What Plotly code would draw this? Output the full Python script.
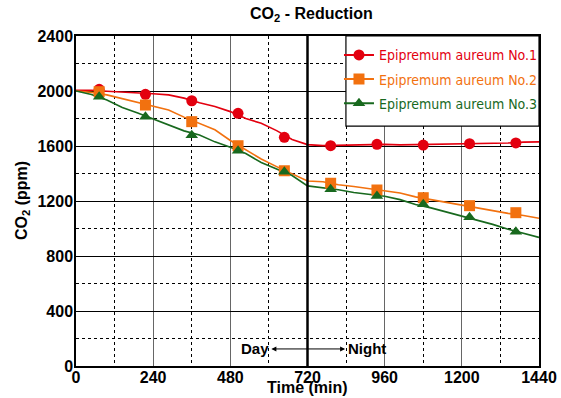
import plotly.graph_objects as go

# ---------------- data ----------------
line_time = list(range(0, 1441, 48))
no1_line = [2005, 2005, 1998, 1993, 1988, 1980, 1972, 1948, 1915, 1888, 1850, 1800, 1765,
            1712, 1648, 1610, 1603, 1605, 1608, 1610, 1612, 1608, 1610, 1612, 1615, 1617,
            1615, 1620, 1622, 1628, 1630]
no2_line = [2000, 1990, 1972, 1945, 1915, 1890, 1862, 1810, 1765, 1718, 1640, 1575, 1505,
            1450, 1395, 1345, 1340, 1318, 1305, 1290, 1275, 1258, 1230, 1210, 1185, 1165,
            1150, 1130, 1110, 1095, 1075]
no3_line = [2000, 1975, 1935, 1880, 1840, 1795, 1750, 1710, 1680, 1630, 1590, 1545, 1480,
            1435, 1385, 1310, 1298, 1282, 1262, 1250, 1235, 1210, 1175, 1150, 1120, 1090,
            1065, 1030, 995, 965, 935]

marker_time = [72, 216, 360, 504, 648, 792, 936, 1080, 1224, 1368]
no1_markers = [2012, 1976, 1929, 1838, 1663, 1602, 1612, 1607, 1617, 1622]
no2_markers = [1995, 1898, 1777, 1602, 1420, 1329, 1280, 1224, 1166, 1115]
no3_markers = [1959, 1813, 1678, 1566, 1413, 1285, 1236, 1176, 1081, 977]

series_names = ["Epipremum aureum No.1", "Epipremum aureum No.2", "Epipremum aureum No.3"]
x_ticks = [0, 240, 480, 720, 960, 1200, 1440]
y_ticks = [0, 400, 800, 1200, 1600, 2000, 2400]
day_night_split = 720
arrow_left, arrow_right, arrow_level = 603, 837, 124
day_label_x, night_label_x = 556, 905

# ---------------- style ----------------
colors = ["#E3000F", "#F2710F", "#18691E"]
symbols = ["circle", "square", "triangle-up"]
FONT = "DejaVu Sans Condensed, Liberation Sans Narrow, Liberation Sans, Arial, sans-serif"
FONT2 = "Liberation Sans, Arial, sans-serif"

fig = go.Figure()
lines = [no1_line, no2_line, no3_line]
marks = [no1_markers, no2_markers, no3_markers]
for i in range(3):
    fig.add_trace(go.Scatter(x=line_time, y=lines[i], mode="lines",
                             line=dict(color=colors[i], width=1.6),
                             showlegend=False, hoverinfo="skip"))
for i in range(3):
    fig.add_trace(go.Scatter(x=marker_time, y=marks[i], mode="markers",
                             marker=dict(color=colors[i], symbol=symbols[i], size=11),
                             showlegend=False))
for i in range(3):
    fig.add_trace(go.Scatter(x=[None], y=[None], mode="lines+markers",
                             legendgroup=f"g{i}",
                             line=dict(color=colors[i], width=2),
                             marker=dict(color=colors[i], symbol=symbols[i], size=11),
                             name=f'<span style="color:{colors[i]}">{series_names[i]}</span>'))

fig.add_shape(type="line", xref="x", yref="paper", x0=day_night_split, x1=day_night_split,
              y0=0, y1=1, line=dict(color="black", width=2.5))
# legend frame
fig.add_shape(type="rect", xref="paper", yref="paper", x0=0.583, x1=1.0, y0=0.727, y1=1.0,
              fillcolor="white", line=dict(color="black", width=1.2), layer="above")

fig.add_annotation(x=arrow_right, y=arrow_level, ax=arrow_left, ay=arrow_level,
                   xref="x", yref="y", axref="x", ayref="y", text="",
                   showarrow=True, arrowhead=2, arrowside="end+start", arrowsize=1,
                   arrowwidth=1, arrowcolor="black", standoff=0, startstandoff=0)
fig.add_annotation(x=day_label_x, y=arrow_level, xref="x", yref="y", text="<b>Day</b>",
                   showarrow=False, font=dict(size=15, color="black", family=FONT2))
fig.add_annotation(x=night_label_x, y=arrow_level, xref="x", yref="y", text="<b>Night</b>",
                   showarrow=False, font=dict(size=15, color="black", family=FONT2))
# axis titles
fig.add_annotation(x=0.5, y=0, xref="paper", yref="paper", yanchor="middle", yshift=-21,
                   text="<b>Time (min)</b>", showarrow=False,
                   font=dict(size=16, color="black", family=FONT2))
fig.add_annotation(x=0, y=0.5, xref="paper", yref="paper", xanchor="center", xshift=-54,
                   text="<b>CO<sub>2</sub> (ppm)</b>", showarrow=False, textangle=-90,
                   font=dict(size=16, color="black", family=FONT2))

axis_font = dict(size=16, color="black", family=FONT2)
fig.update_layout(
    width=561, height=398,
    margin=dict(l=76, r=22, t=36, b=32, autoexpand=False),
    paper_bgcolor="white", plot_bgcolor="white",
    font=dict(family=FONT2, color="black"),
    title=dict(text="<b>CO<sub>2</sub> - Reduction</b>", x=0.555, xanchor="center",
               y=0.967, yanchor="middle", font=dict(size=16, color="black", family=FONT2)),
    legend=dict(x=0.568, y=0.99, xanchor="left", yanchor="top", bgcolor="rgba(0,0,0,0)",
                borderwidth=0, font=dict(size=14, family=FONT),
                tracegroupgap=3, itemwidth=30),
    showlegend=True,
)
fig.update_xaxes(range=[0, 1440], tickvals=x_ticks, ticktext=[f"<b>{v}</b>" for v in x_ticks],
                 tickfont=axis_font, showgrid=True, gridcolor="#666666", gridwidth=1,
                 minor=dict(dtick=120, tick0=0, showgrid=True, gridcolor="black",
                            griddash="dot", gridwidth=1),
                 showline=True, linecolor="black", linewidth=1.5, mirror=True,
                 zeroline=False, ticks="", ticklabelstandoff=-4, automargin=False)
fig.update_yaxes(range=[0, 2400], tickvals=y_ticks, ticktext=[f"<b>{v}</b>" for v in y_ticks],
                 tickfont=axis_font, showgrid=True, gridcolor="black", gridwidth=1,
                 minor=dict(dtick=200, tick0=0, showgrid=True, gridcolor="black",
                            griddash="dot", gridwidth=1),
                 showline=True, linecolor="black", linewidth=1.5, mirror=True,
                 zeroline=False, ticks="", ticklabelstandoff=-2, automargin=False)

fig.write_html("out.html", config={"displayModeBar": False},
               post_script="document.body.style.margin='0px';document.body.style.overflow='hidden';")
